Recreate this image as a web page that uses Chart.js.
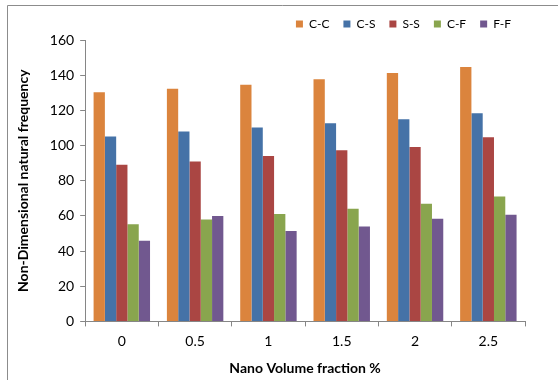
<!DOCTYPE html>
<html>
<head>
<meta charset="utf-8">
<script src="https://cdn.jsdelivr.net/npm/chart.js@4/dist/chart.umd.min.js"></script>
<style>
  html, body { margin: 0; padding: 0; background: #fff; }
  #wrap { width: 558px; height: 380px; position: relative; }
</style>
</head>
<body>
<div id="wrap"><canvas id="chartBar" width="558" height="380"></canvas></div>
<script>
// values
var categories = ['0', '0.5', '1', '1.5', '2', '2.5'];
var seriesNames = ['C-C', 'C-S', 'S-S', 'C-F', 'F-F'];
var valuesCC = [130.3, 132.3, 134.5, 137.7, 141.3, 144.6];
var valuesCS = [105.1, 108.0, 110.3, 112.7, 114.9, 118.3];
var valuesSS = [89.1, 90.9, 94.1, 97.3, 99.2, 104.7];
var valuesCF = [55.2, 57.9, 61.1, 64.0, 66.9, 71.0];
var valuesFF = [45.9, 60.0, 51.4, 53.9, 58.3, 60.7];
var yTicks = [0, 20, 40, 60, 80, 100, 120, 140, 160];

var colores = ['#DB843D', '#4572A7', '#AA4643', '#89A54E', '#71588F'];
var series = [valuesCC, valuesCS, valuesSS, valuesCF, valuesFF];

var datasets = [];
for (var i = 0; i < seriesNames.length; i++) {
    datasets.push({
        label: seriesNames[i],
        backgroundColor: colores[i],
        borderWidth: 0,
        data: series[i]
    });
}

// gray frame (top + left edge only are visible in the picture)
var marco = {
    id: 'marco',
    beforeDraw: function(chart) {
        var ctx = chart.ctx;
        ctx.save();
        ctx.fillStyle = '#fff';
        ctx.fillRect(0, 0, chart.width, chart.height);
        ctx.strokeStyle = '#8c8c8c';
        ctx.lineWidth = 1;
        ctx.beginPath();
        ctx.moveTo(7.5, chart.height);
        ctx.lineTo(7.5, 5.5);
        ctx.lineTo(chart.width, 5.5);
        ctx.stroke();
        ctx.restore();
    }
};

var ejeColor = '#868686';
var texto = '#000';

new Chart(document.getElementById('chartBar'), {
    type: 'bar',
    data: { labels: categories, datasets: datasets },
    plugins: [marco],
    options: {
        responsive: false,
        animation: false,
        layout: { padding: { left: 15, right: 33, top: 4, bottom: 3 } },
        datasets: { bar: { categoryPercentage: 0.77, barPercentage: 1 } },
        plugins: {
            legend: {
                position: 'top',
                align: 'end',
                labels: {
                    boxWidth: 7,
                    boxHeight: 7,
                    padding: 14,
                    color: texto,
                    font: { family: 'Lato', size: 12 }
                }
            },
            tooltip: { enabled: false }
        },
        scales: {
            x: {
                grid: {
                    offset: true,
                    drawOnChartArea: false,
                    tickLength: 5,
                    color: ejeColor
                },
                border: { color: ejeColor },
                ticks: { color: texto, padding: 7, font: { family: 'Lato', size: 14 } },
                title: {
                    display: true,
                    text: 'Nano Volume fraction %',
                    color: texto,
                    padding: { top: 3, bottom: 0 },
                    font: { family: 'Lato', size: 14, weight: 'bold' }
                }
            },
            y: {
                min: 0,
                max: 160,
                afterBuildTicks: function(axis) {
                    axis.ticks = yTicks.map(function(v) { return { value: v }; });
                },
                grid: {
                    drawOnChartArea: false,
                    tickLength: 5,
                    color: ejeColor
                },
                border: { color: ejeColor },
                ticks: { color: texto, padding: 6, font: { family: 'Lato', size: 14 } },
                title: {
                    display: true,
                    text: 'Non-Dimensional natural frequency',
                    color: texto,
                    padding: { top: 0, bottom: 12 },
                    font: { family: 'Lato', size: 14, weight: 'bold' }
                }
            }
        }
    }
});
</script>
</body>
</html>
